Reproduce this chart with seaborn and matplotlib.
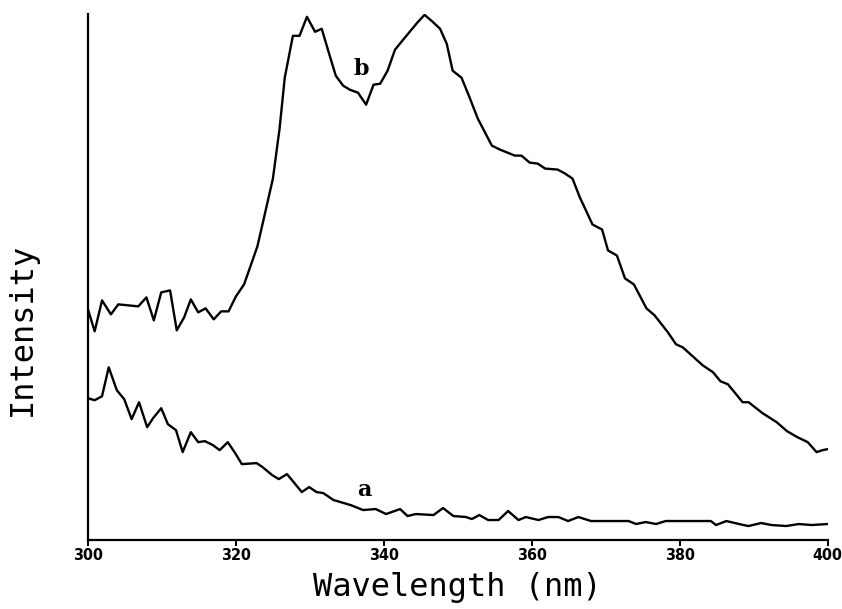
import matplotlib
matplotlib.use("Agg")
import matplotlib.pyplot as plt
from matplotlib import font_manager
import numpy as np
import pandas as pd
import seaborn as sns

# curve b (upper spectrum)
wl_b = [300.0, 300.9, 301.9, 303.1, 304.1, 306.8, 307.9, 308.9, 309.9, 311.1,
        312.0, 313.0, 313.9, 314.9, 315.9, 317.0, 318.0, 319.0, 320.0, 321.1,
        322.9, 323.8, 325.0, 325.9, 326.6, 327.7, 328.6, 329.6, 330.7, 331.6,
        332.6, 333.5, 334.5, 335.4, 336.5, 337.6, 338.6, 339.5, 340.5, 341.5,
        342.6, 344.5, 345.5, 346.6, 347.6, 348.5, 349.3, 350.5, 351.6, 352.7,
        354.6, 355.7, 357.7, 358.6, 359.7, 360.8, 361.8, 363.5, 364.5, 365.5,
        366.5, 367.2, 368.2, 369.5, 370.3, 371.5, 372.6, 373.8, 375.5, 376.6,
        378.4, 379.5, 380.4, 381.6, 383.1, 384.5, 385.5, 386.5, 387.4, 388.5,
        389.3, 391.2, 393.1, 394.5, 395.9, 397.3, 398.5, 399.3, 400.0]
int_b = [231, 209, 240, 226, 236, 234, 243, 220, 248, 250,
         210, 223, 241, 228, 232, 221, 229, 229, 244, 256,
         294, 323, 362, 412, 463, 505, 505, 524, 509, 512,
         487, 465, 455, 451, 448, 436, 456, 457, 470, 491,
         501, 518, 526, 519, 512, 497, 470, 463, 443, 422,
         395, 391, 385, 385, 378, 377, 372, 371, 367, 362,
         343, 332, 316, 311, 290, 285, 262, 256, 232, 225,
         208, 196, 193, 185, 175, 168, 159, 156, 148, 138,
         138, 127, 118, 109, 103, 98, 88, 90, 91]

# curve a (lower spectrum)
wl_a = [300.0, 300.9, 301.9, 302.8, 303.9, 304.9, 305.9, 306.9, 308.0, 308.8,
        309.9, 310.8, 311.9, 312.8, 313.9, 314.9, 315.8, 316.9, 317.8, 318.9,
        319.9, 320.8, 322.8, 323.6, 324.9, 325.8, 326.9, 327.8, 328.9, 329.9,
        330.9, 331.8, 333.2, 335.5, 337.2, 338.9, 340.3, 342.2, 343.2, 344.3,
        346.7, 348.0, 349.4, 351.1, 351.9, 352.9, 354.1, 355.5, 356.8, 358.2,
        359.2, 360.9, 362.2, 363.6, 364.9, 366.3, 368.0, 370.7, 373.1, 374.1,
        375.4, 376.8, 378.1, 384.2, 384.9, 386.3, 388.6, 389.3, 391.0, 392.4,
        394.4, 396.1, 397.8, 400.0]
int_a = [142, 140, 144, 173, 150, 141, 121, 138, 113, 122,
         132, 116, 110, 88, 108, 98, 99, 95, 90, 98,
         87, 76, 77, 73, 65, 61, 66, 58, 48, 53,
         48, 47, 40, 35, 30, 31, 26, 31, 24, 26,
         25, 32, 24, 23, 21, 25, 20, 20, 29, 20,
         23, 20, 23, 23, 19, 23, 19, 19, 19, 16,
         18, 16, 19, 19, 15, 19, 15, 14, 17, 15,
         14, 16, 15, 16]

xticks = [300, 320, 340, 360, 380, 400]

df = pd.concat([
    pd.DataFrame({"wl": wl_b, "I": int_b, "curve": "b"}),
    pd.DataFrame({"wl": wl_a, "I": int_a, "curve": "a"}),
])

sns.set_style("ticks")
plt.rcParams['font.family'] = ['DejaVu Sans Mono', 'DejaVu Sans']

# narrow bold face for the tick numbers, if there is one
names = {f.name for f in font_manager.fontManager.ttflist}
condensed = [f for f in font_manager.fontManager.ttflist
             if f.name == "DejaVu Sans" and f.stretch in ("condensed", 300)]
if "Liberation Sans Narrow" in names:
    tick_font = dict(family="Liberation Sans Narrow", fontsize=12)
elif condensed:
    tick_font = dict(family="DejaVu Sans", fontstretch="condensed", fontsize=11.5)
else:
    tick_font = dict(family="Liberation Sans", fontsize=11)

fig = plt.figure(figsize=(8.42, 6.09), dpi=100)
ax = fig.add_axes([0.1045, 0.1133, 0.8785, 0.864])

sns.lineplot(data=df, x="wl", y="I", units="curve", estimator=None,
             color="black", lw=1.7, sort=False, ax=ax)

ax.set_xlim(300, 400)
ax.set_ylim(0, 527)
sns.despine(ax=ax)
for s in ["left", "bottom"]:
    ax.spines[s].set_linewidth(1.6)
    ax.spines[s].set_color("black")

ax.set_yticks([])
ax.set_xticks(xticks)
ax.set_xticklabels([str(t) for t in xticks], fontweight="bold", **tick_font)
ax.tick_params(axis="x", direction="out", length=4, width=1.4, pad=2,
               colors="black")

ax.set_xlabel("Wavelength (nm)", fontsize=23, labelpad=6, color="black")
ax.set_ylabel("Intensity", fontsize=23, color="black")
ax.yaxis.set_label_coords(-0.068, 0.40)

ax.text(337.0, 472, "b", family="DejaVu Serif", fontweight="bold",
        fontsize=16, ha="center", va="center", color="black")
ax.text(337.4, 50, "a", family="DejaVu Serif", fontweight="bold",
        fontsize=16, ha="center", va="center", color="black")

fig.savefig("out.png", dpi=100, facecolor="white")
